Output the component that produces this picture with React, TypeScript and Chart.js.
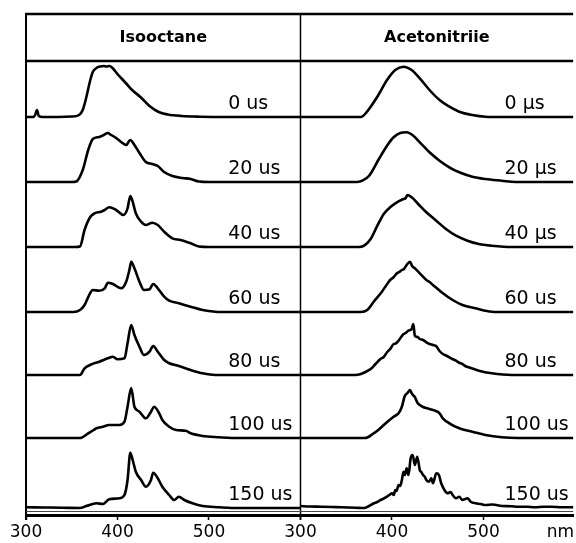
import React, { useEffect, useRef } from "react";
import { Chart, registerables } from "chart.js";

Chart.register(...registerables);

// ---- Data: emission spectra [wavelength nm, intensity a.u.] ----
const iso0us: [number, number][] = [[300,0],[308,0],[310,2],[312,7],[314,1],[318,0],[350,0.5],[358,2],[362,7],[366,20],[370,36],[373,45],[377,49],[381,50.5],[385,51],[388,50.5],[391,51],[394,49.5],[400,43],[405,38],[410,33],[416,27],[425,20],[435,11],[445,5],[455,2.5],[470,1],[490,0.3],[520,0],[600,0]];
const iso20us: [number, number][] = [[300,0],[350,0],[355,0.5],[362,12],[368,32],[373,43],[380,45],[385,47],[389.5,49],[393,47],[397,45],[404,40],[409.5,37],[414,42],[418.5,37],[424,29],[431,20],[438,18],[444,16],[451,10],[460,6],[471,4],[480,3],[489,0.5],[500,0],[600,0]];
const iso40us: [number, number][] = [[300,0],[354,0],[359,0.5],[364,17],[370,29.7],[375,33.7],[382,35.3],[386,37],[391,39.7],[398.5,37],[406.5,32],[411,38.7],[414,51],[416.6,45.3],[420,33.7],[425.8,25.3],[431,22],[438,24.3],[444,22],[451,15.3],[460,8.7],[469,7],[480,3.7],[489,0.5],[500,0],[600,0]];
const iso60us: [number, number][] = [[300,0],[352,0],[359,2],[364,7],[370,18.7],[373,22],[380,21.3],[386,23.7],[389.5,29.3],[395,28],[404,23.7],[409.5,30.3],[413,42],[415,50.3],[418.5,43.7],[424,30.3],[429,22],[435,22.7],[439,28],[444,23.7],[451,15.3],[456.5,11.3],[467,8.7],[480,5.3],[493,2],[507,0.3],[520,0],[600,0]];
const iso80us: [number, number][] = [[300,0],[359,0],[364,6.7],[370,10],[380,13.3],[389.5,16.7],[395,18.3],[400,15.7],[407.6,16.7],[411,31.7],[415,50],[418.5,40],[424,28.3],[429,20],[435,23.3],[439,29],[444,23.3],[451,15],[456.5,11.7],[467,9],[480,5],[493,1.7],[507,0],[600,0]];
const iso100us: [number, number][] = [[300,0],[359,0],[368,4.7],[374,8],[377,9.7],[384,11.3],[391,13],[402,13],[407.6,16.3],[411,31.3],[415,50],[418.5,31.3],[424,26.3],[431,19.7],[436.6,26.3],[440,31.3],[445.6,24.7],[449,18],[456.5,11.3],[464,8],[474.6,7.3],[480,4.7],[493,2],[511,0.7],[525,0],[600,0]];
const iso150us: [number, number][] = [[300,0.7],[320,0.5],[340,0.3],[359,0],[366,2],[377,4.7],[384,4],[391,8.7],[402,9.7],[407.6,13],[411,28],[414,55.3],[416.6,48],[420,36.3],[425.8,28],[431,21.3],[436.6,28],[439,35.3],[444,29.7],[449,21.3],[456.5,13],[462,8],[467,11.3],[473,8],[482,4.7],[493,2],[511,0.7],[525,0],[600,0]];

const acn0us: [number, number][] = [[300,0],[366,0],[373,5.7],[384,20.3],[394.6,37],[403.6,47],[412.6,50.3],[421.5,47],[430.4,38.7],[441,27],[452,17],[462.7,10.3],[473.5,5.3],[487.8,2],[502,0.3],[520,0],[600,0]];
const acn20us: [number, number][] = [[300,0],[362,0],[367.7,1.3],[375,6.3],[385.7,23],[394.6,36.3],[401.8,44.7],[409,49],[416,49.7],[423.3,46.3],[430.4,39.7],[441,29.7],[452,21.3],[462.7,14.7],[473.5,9.7],[487.8,5.3],[502,3],[520,1.3],[535,0],[600,0]];
const acn40us: [number, number][] = [[300,0],[364,0],[369.5,1.3],[376.7,8],[384,21.3],[391,33],[398,39.7],[405.4,44.7],[412.6,48],[415,49],[417,52],[421.5,49.7],[428.7,43],[437.6,34.7],[448.4,26.3],[459,18],[470,11.3],[482.5,6.3],[495,3],[509,1.3],[531,0],[600,0]];
const acn60us: [number, number][] = [[300,0],[366,0],[373,2],[380,10.3],[389,20.3],[394,27],[398,32],[402,35],[405.4,38.7],[408,40],[410.8,42],[413,43],[416,47],[419.7,50.3],[422,46],[425,43.7],[430.4,38.7],[437.6,32],[441,30],[444.8,27],[455.6,18.7],[466.3,12],[477,7],[491.4,3.7],[509,0.3],[525,0],[600,0]];
const acn80us: [number, number][] = [[300,0],[360,0],[366,1],[371,3],[376.7,6],[382,11],[387.4,16],[391,18],[394.6,22.7],[398,26],[401.8,31],[404,31.5],[407.2,34.3],[410,38],[412.6,41],[415,42],[418,44.3],[421.5,46],[423.3,51],[425,39.3],[428,38],[430.4,36],[434,35],[437.6,32.7],[441,31],[444.8,30],[448.4,28.7],[452,24],[455.6,21],[459,19.5],[462.7,17.7],[466,16],[470,14.3],[473,12.5],[477,11],[480,9],[484,7.7],[495,4.3],[509,1.7],[531,0],[600,0]];
const acn100us: [number, number][] = [[300,0],[370,0],[373,0.5],[380,4.7],[385,8],[391,13],[396,17],[401.8,21.3],[407.2,24.7],[410.8,31.3],[414,42],[417,45],[419.7,48],[422,44],[425,41],[428,35],[430.4,33],[434,31],[437.6,30],[441,29],[444.8,28],[448,27],[452,24.7],[455.6,19.7],[462.7,14.7],[473.5,9.7],[487.8,6.3],[502,3],[520,0.7],[538,0],[600,0]];
const acn150us: [number, number][] = [[300,2],[310,1.5],[323,1.3],[335,1],[344.4,0.7],[360,0.3],[369.5,0],[375,2],[380.3,4.7],[384,6],[387.4,8],[390,9],[394.6,11.3],[397,13],[400,14.7],[402,13],[403.6,18],[405,17],[407.2,23],[409,22],[410.8,28],[412.6,36.3],[414,33],[416,39.7],[418,33],[420.4,49.7],[422.6,53],[425,43],[427.6,51.3],[430.4,38],[432,36],[434,33],[436,31],[437.6,28],[440.5,26.3],[443,29.7],[444.8,24.7],[448.4,34.7],[451.3,33],[453.8,24.7],[457.3,18],[461,14.7],[464,16],[466.3,13],[469.9,9.7],[473.5,11.3],[477,8],[480,9],[482.5,9.7],[486,6.3],[491.4,4.7],[497,4],[502,3],[510,3.5],[520,2],[530,1.8],[538,1.3],[548,1.2],[556,0.7],[565,1.2],[574,1.3],[585,0.8],[594.6,0.7],[600,1]];

const isoTraces = [iso0us, iso20us, iso40us, iso60us, iso80us, iso100us, iso150us];
const acnTraces = [acn0us, acn20us, acn40us, acn60us, acn80us, acn100us, acn150us];
// vertical offsets of each stacked trace (a.u.)
const rowOffsets = [398, 333, 268, 203, 140, 77, 7];

const panelTitles = ["Isooctane", "Acetonitriie"];
const isoLabels = ["0 us", "20 us", "40 us", "60 us", "80 us", "100 us", "150 us"];
const acnLabels = ["0 µs", "20 µs", "40 µs", "60 us", "80 us", "100 us", "150 us"];

const tickValues = [300, 400, 500, 600, 700, 800, 884];
const tickLabels = ["300", "400", "500", "300", "400", "500", "nm"];

const panelShift = 300; // right panel drawn on the same axis, shifted by 300 nm
const X_MIN = 300;
const X_MAX = 898;
const Y_MAX = 502;
const TITLE_BAND_Y = 454;
const LABEL_X_LEFT = 521;
const LABEL_X_RIGHT = 823;

const FONT = "'DejaVu Sans', sans-serif";

const framePlugin = {
  id: "frame",
  afterDraw(chart: any) {
    const { ctx, chartArea: ca, scales } = chart;
    const x = scales.x;
    const y = scales.y;
    const xl = x.getPixelForValue(300);
    const xm = x.getPixelForValue(600);
    const xr = ca.right;
    const yTop = ca.top;
    const yBand = y.getPixelForValue(TITLE_BAND_Y);
    ctx.save();
    ctx.strokeStyle = "#000";
    ctx.lineCap = "butt";
    ctx.lineWidth = 2.5;
    ctx.beginPath();
    ctx.moveTo(xl - 1, yTop + 1);
    ctx.lineTo(xr, yTop + 1);
    ctx.stroke();
    ctx.lineWidth = 2.5;
    ctx.beginPath();
    ctx.moveTo(xl, yBand);
    ctx.lineTo(xr, yBand);
    ctx.stroke();
    ctx.lineWidth = 2;
    ctx.beginPath();
    ctx.moveTo(xl, yTop);
    ctx.lineTo(xl, ca.bottom + 5);
    ctx.stroke();
    ctx.lineWidth = 1.5;
    ctx.beginPath();
    ctx.moveTo(xm, yTop);
    ctx.lineTo(xm, ca.bottom + 5);
    ctx.stroke();
    ctx.lineWidth = 1;
    ctx.strokeStyle = "#444";
    ctx.beginPath();
    ctx.moveTo(xl, ca.bottom - 3.5);
    ctx.lineTo(xr, ca.bottom - 3.5);
    ctx.stroke();

    ctx.fillStyle = "#000";
    ctx.font = `bold 16px ${FONT}`;
    ctx.textAlign = "center";
    ctx.textBaseline = "middle";
    const ty = (yTop + yBand) / 2 + 1;
    ctx.fillText(panelTitles[0], (xl + xm) / 2, ty);
    ctx.fillText(panelTitles[1], (xm + xr) / 2, ty);

    ctx.font = `19px ${FONT}`;
    ctx.textAlign = "left";
    ctx.textBaseline = "alphabetic";
    rowOffsets.forEach((off, i) => {
      const py = y.getPixelForValue(off) - 8;
      ctx.fillText(isoLabels[i], x.getPixelForValue(LABEL_X_LEFT), py);
      ctx.fillText(acnLabels[i], x.getPixelForValue(LABEL_X_RIGHT), py);
    });
    ctx.restore();
  },
};

export default function App() {
  const ref = useRef<HTMLCanvasElement | null>(null);
  useEffect(() => {
    if (!ref.current) return;
    Chart.defaults.font.family = FONT;
    const mk = (trace: [number, number][], i: number, shift: number) => ({
      data: trace.map(([w, v]) => ({ x: w + shift, y: v + rowOffsets[i] })),
      borderColor: "#000",
      borderWidth: 2.6,
      pointRadius: 0,
      fill: false,
      cubicInterpolationMode: "monotone" as const,
    });
    const datasets = [
      ...isoTraces.map((t, i) => mk(t, i, 0)),
      ...acnTraces.map((t, i) => mk(t, i, panelShift)),
    ];
    const chart = new Chart(ref.current, {
      type: "line",
      data: { datasets },
      options: {
        animation: false,
        responsive: false,
        events: [],
        layout: { padding: { left: 26, top: 13, right: 0, bottom: 0 } },
        plugins: { legend: { display: false }, tooltip: { enabled: false }, title: { display: false } },
        scales: {
          x: {
            type: "linear",
            min: X_MIN,
            max: X_MAX,
            afterFit: (s: any) => { s.height = 28; },
            afterBuildTicks: (s: any) => { s.ticks = tickValues.map((v) => ({ value: v })); },
            ticks: {
              autoSkip: false,
              maxRotation: 0,
              padding: 2,
              color: "#000",
              font: { size: 17, family: FONT },
              callback: (_v: any, idx: number) => tickLabels[idx],
            },
            grid: {
              drawOnChartArea: false,
              drawTicks: true,
              tickLength: 5,
              tickWidth: 1.5,
              tickColor: (c: any) => (c.tick && c.tick.value === 884 ? "rgba(0,0,0,0)" : "#000"),
            },
            border: { display: true, color: "#000", width: 3 },
          },
          y: {
            display: false,
            min: 0,
            max: Y_MAX,
          },
        },
      },
      plugins: [framePlugin],
    });
    return () => chart.destroy();
  }, []);
  return (
    <div style={{ position: "absolute", left: 0, top: 0, width: 576, height: 543, background: "#fff" }}>
      <canvas ref={ref} width={576} height={543} style={{ display: "block" }} />
    </div>
  );
}
